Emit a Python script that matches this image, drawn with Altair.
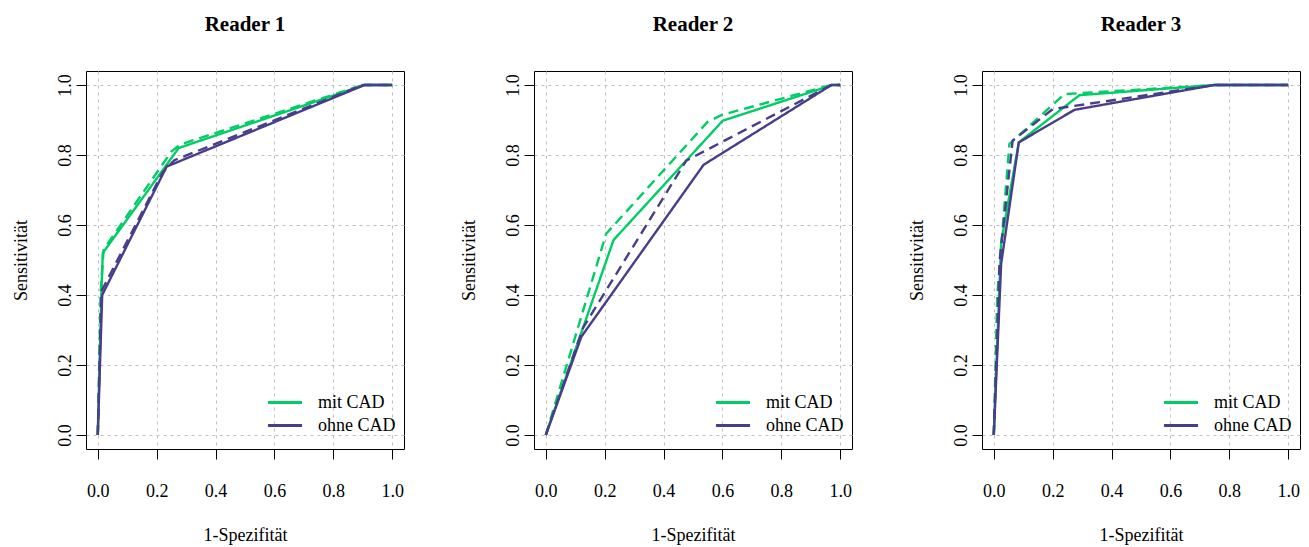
import altair as alt
import pandas as pd

readers = ["Reader 1", "Reader 2", "Reader 3"]
cad_levels = ["mit CAD", "ohne CAD"]
cad_colors = ["#00CD66", "#483D8B"]
kurve_levels = ["durchgezogen", "gestrichelt"]
tick_values = [0.0, 0.2, 0.4, 0.6, 0.8, 1.0]

# Reader 1
r1_mit_solid_x = [0.0, 0.012, 0.017, 0.275, 0.906, 1.0]
r1_mit_solid_y = [0.0, 0.40, 0.52, 0.82, 1.0, 1.0]
r1_mit_dash_x = [0.0, 0.010, 0.020, 0.25, 0.28, 0.90, 1.0]
r1_mit_dash_y = [0.0, 0.41, 0.53, 0.81, 0.83, 1.0, 1.0]
r1_ohne_solid_x = [0.0, 0.015, 0.234, 0.906, 1.0]
r1_ohne_solid_y = [0.0, 0.40, 0.767, 1.0, 1.0]
r1_ohne_dash_x = [0.0, 0.012, 0.22, 0.26, 0.90, 1.0]
r1_ohne_dash_y = [0.0, 0.41, 0.75, 0.785, 1.0, 1.0]

# Reader 2
r2_mit_solid_x = [0.0, 0.23, 0.601, 0.974, 1.0]
r2_mit_solid_y = [0.0, 0.557, 0.898, 1.0, 1.0]
r2_mit_dash_x = [0.0, 0.205, 0.55, 0.60, 0.97, 1.0]
r2_mit_dash_y = [0.0, 0.575, 0.895, 0.915, 1.0, 1.0]
r2_ohne_solid_x = [0.0, 0.121, 0.536, 0.97, 1.0]
r2_ohne_solid_y = [0.0, 0.281, 0.772, 1.0, 1.0]
r2_ohne_dash_x = [0.0, 0.127, 0.477, 0.97, 1.0]
r2_ohne_dash_y = [0.0, 0.307, 0.784, 1.0, 1.0]

# Reader 3
r3_mit_solid_x = [0.0, 0.025, 0.085, 0.291, 0.749, 1.0]
r3_mit_solid_y = [0.0, 0.55, 0.836, 0.971, 1.0, 1.0]
r3_mit_dash_x = [0.0, 0.012, 0.053, 0.24, 0.75, 1.0]
r3_mit_dash_y = [0.0, 0.40, 0.831, 0.974, 1.0, 1.0]
r3_ohne_solid_x = [0.0, 0.025, 0.085, 0.274, 0.749, 1.0]
r3_ohne_solid_y = [0.0, 0.489, 0.836, 0.929, 1.0, 1.0]
r3_ohne_dash_x = [0.0, 0.02, 0.064, 0.20, 0.75, 1.0]
r3_ohne_dash_y = [0.0, 0.50, 0.841, 0.931, 1.0, 1.0]

series = [
    ("Reader 1", "mit CAD", "durchgezogen", r1_mit_solid_x, r1_mit_solid_y),
    ("Reader 1", "mit CAD", "gestrichelt", r1_mit_dash_x, r1_mit_dash_y),
    ("Reader 1", "ohne CAD", "durchgezogen", r1_ohne_solid_x, r1_ohne_solid_y),
    ("Reader 1", "ohne CAD", "gestrichelt", r1_ohne_dash_x, r1_ohne_dash_y),
    ("Reader 2", "mit CAD", "durchgezogen", r2_mit_solid_x, r2_mit_solid_y),
    ("Reader 2", "mit CAD", "gestrichelt", r2_mit_dash_x, r2_mit_dash_y),
    ("Reader 2", "ohne CAD", "durchgezogen", r2_ohne_solid_x, r2_ohne_solid_y),
    ("Reader 2", "ohne CAD", "gestrichelt", r2_ohne_dash_x, r2_ohne_dash_y),
    ("Reader 3", "mit CAD", "durchgezogen", r3_mit_solid_x, r3_mit_solid_y),
    ("Reader 3", "mit CAD", "gestrichelt", r3_mit_dash_x, r3_mit_dash_y),
    ("Reader 3", "ohne CAD", "durchgezogen", r3_ohne_solid_x, r3_ohne_solid_y),
    ("Reader 3", "ohne CAD", "gestrichelt", r3_ohne_dash_x, r3_ohne_dash_y),
]

rows = []
for reader, cad, kurve, xs, ys in series:
    for i, (xv, yv) in enumerate(zip(xs, ys)):
        rows.append({"reader": reader, "cad": cad, "kurve": kurve,
                     "serie": reader + cad + kurve, "i": i, "x": xv, "y": yv})
df = pd.DataFrame(rows)

FONT = "Liberation Serif"


def panel(name):
    d = df[df["reader"] == name]
    return alt.Chart(d).mark_line(strokeWidth=2.4).encode(
        x=alt.X("x:Q",
                scale=alt.Scale(domain=[-0.04, 1.04], nice=False, zero=False),
                axis=alt.Axis(values=tick_values, format=".1f", title="1-Spezifität",
                              labelBaseline="alphabetic", labelPadding=37,
                              titleBaseline="alphabetic", titleY=91)),
        y=alt.Y("y:Q",
                scale=alt.Scale(domain=[-0.04, 1.04], nice=False, zero=False),
                axis=alt.Axis(values=tick_values, format=".1f", title="Sensitivität",
                              labelAngle=270, labelAlign="center",
                              labelBaseline="alphabetic", labelPadding=6,
                              titleAngle=270, titleBaseline="alphabetic",
                              titleX=-60, titleY=189)),
        color=alt.Color("cad:N",
                        scale=alt.Scale(domain=cad_levels, range=cad_colors),
                        legend=alt.Legend(orient="none", legendX=180, legendY=320,
                                          title=None, symbolType="stroke",
                                          symbolStrokeWidth=3.2, symbolSize=1156,
                                          labelFont=FONT, labelFontSize=18,
                                          labelColor="black", labelOffset=14,
                                          clipHeight=23, rowPadding=0)),
        strokeDash=alt.StrokeDash("kurve:N",
                                  scale=alt.Scale(domain=kurve_levels,
                                                  range=[[1, 0], [10, 6]]),
                                  legend=None),
        detail="serie:N",
        order="i:Q",
    ).properties(width=318, height=378, title=name)


chart = alt.hconcat(
    panel("Reader 1"), panel("Reader 2"), panel("Reader 3"),
    spacing=130, bounds="flush",
).resolve_scale(color="independent").configure_view(
    stroke="black", strokeWidth=1
).configure_axis(
    labelFont=FONT, labelFontSize=18, labelColor="black",
    titleFont=FONT, titleFontSize=18, titleFontWeight="normal", titleColor="black",
    tickColor="black", tickSize=10, domain=False,
    grid=True, gridDash=[3, 4], gridColor="#BEBEBE", gridWidth=1,
).configure_title(
    font=FONT, fontSize=21, fontWeight="bold", color="black", offset=36, anchor="middle"
).properties(
    padding={"left": 3, "top": 5, "right": 0, "bottom": 0}
)

chart.save("out.html", embed_options={"renderer": "svg", "actions": False})
